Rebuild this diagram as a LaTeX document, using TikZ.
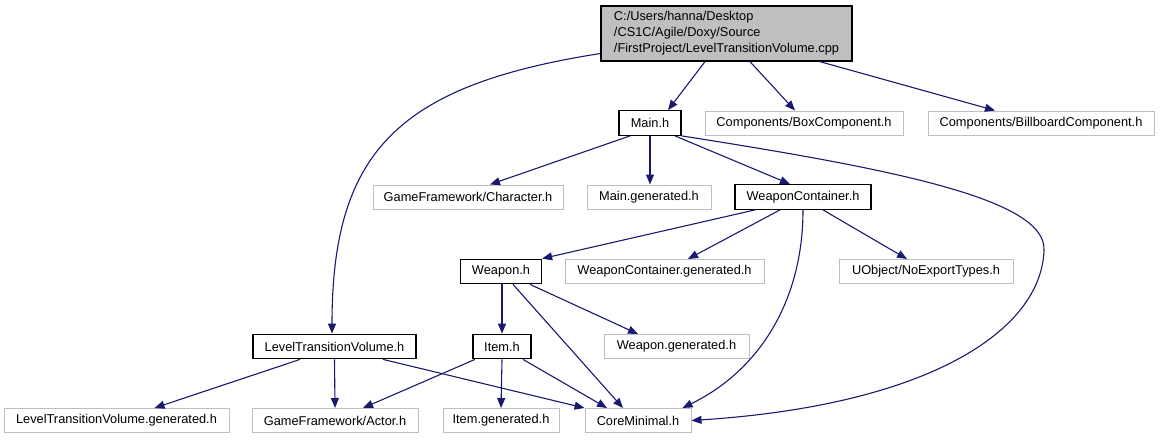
\documentclass[tikz,border=0pt]{standalone}
\usepackage{fontspec}
\setmainfont{Liberation Sans}
\usetikzlibrary{arrows.meta}
\definecolor{Edge}{HTML}{191970}
\definecolor{Frame}{HTML}{BFBFBF}
\colorlet{rootface}{Frame}

\begin{document}
\begin{tikzpicture}[x=1pt,y=-1pt,font=\fontsize{12.8}{16}\selectfont,
    file/.style={draw=Frame,line width=1pt,inner sep=0pt,minimum height=24pt},
    local/.style={draw=black,line width=1.3pt,inner sep=0pt,minimum height=24.5pt},
    edge/.style={draw=Edge,line width=1.1pt,-{Triangle[length=10pt,width=8pt]}}]
    \useasboundingbox (0,0) rectangle (1161,440);
    \node[draw=black,fill=rootface,line width=1.3pt,align=left,minimum width=251pt,minimum height=55pt,inner sep=0pt] (root) at (726.5,33.5)
      {C:/Users/hanna/Desktop\\/CS1C/Agile/Doxy/Source\\/FirstProject/LevelTransitionVolume.cpp};
    \node[local,minimum width=62pt] (mainh) at (650,123){Main.h};
    \node[file,minimum width=198pt] (boxc) at (804,123){Components/BoxComponent.h};
    \node[file,minimum width=226pt] (billc) at (1041,123){Components/BillboardComponent.h};
    \node[file,minimum width=190pt] (charh) at (468,197){GameFramework/Character.h};
    \node[file,minimum width=124pt] (maingen) at (649,197){Main.generated.h};
    \node[local,minimum width=136pt] (wch) at (803,197){WeaponContainer.h};
    \node[local,minimum width=81pt] (weaponh) at (501,271.5){Weapon.h};
    \node[file,minimum width=199pt] (wcgen) at (664.5,271.5){WeaponContainer.generated.h};
    \node[file,minimum width=174pt] (noexp) at (926,271.5){UObject/NoExportTypes.h};
    \node[local,minimum width=163pt] (ltvh) at (334.5,346.5){LevelTransitionVolume.h};
    \node[local,minimum width=58pt] (itemh) at (502,346.5){Item.h};
    \node[file,minimum width=145pt] (weapgen) at (676.5,346.5){Weapon.generated.h};
    \node[file,minimum width=225pt] (ltvgen) at (116.5,420.5){LevelTransitionVolume.generated.h};
    \node[file,minimum width=166pt] (actor) at (335,420.5){GameFramework/Actor.h};
    \node[file,minimum width=116pt] (itemgen) at (501,420.5){Item.generated.h};
    \node[file,minimum width=106pt] (core) at (638,420.5){CoreMinimal.h};
    % from the cpp file
    \draw[edge] ([xshift=-21.5pt]root.south)--([xshift=18pt]mainh.north);
    \draw[edge] ([xshift=23.5pt]root.south)--([xshift=-9pt]boxc.north);
    \draw[edge] ([xshift=93.5pt]root.south)--([xshift=-46pt]billc.north);
    \draw[edge] ([yshift=-20pt]root.west) .. controls (400,85) and (332,150) .. ([xshift=-2.5pt]ltvh.north);
    % Main.h
    \draw[edge] ([xshift=-20pt]mainh.south)--([xshift=22pt]charh.north);
    \draw[edge] (mainh.south)--([xshift=1pt]maingen.north);
    \draw[edge] ([xshift=25pt]mainh.south)--([xshift=-13pt]wch.north);
    \draw[edge] (mainh.south east) .. controls (900,170) and (1046,200) .. (1044,250)
      .. controls (1041.6,330) and (930,405) .. (core.east);
    % WeaponContainer.h
    \draw[edge] ([xshift=-48pt]wch.south)--(weaponh.north east);
    \draw[edge] ([xshift=-23pt]wch.south)--([xshift=23.5pt]wcgen.north);
    \draw[edge] ([xshift=20pt]wch.south)--([xshift=-19pt]noexp.north);
    \draw[edge] (wch.south) .. controls (803,300) and (760,370) .. ([xshift=-9pt]core.north east);
    % Weapon.h
    \draw[edge] ([xshift=1pt]weaponh.south)--(itemh.north);
    \draw[edge] ([xshift=29pt]weaponh.south)--([xshift=-38.5pt]weapgen.north);
    \draw[edge] ([xshift=12pt]weaponh.south)--([xshift=-15pt]core.north);
    % LevelTransitionVolume.h
    \draw[edge] ([xshift=-34.5pt]ltvh.south)--([xshift=38pt]ltvgen.north);
    \draw[edge] (ltvh.south)--(actor.north);
    \draw[edge] ([xshift=48.5pt]ltvh.south)--(core.north west);
    % Item.h
    \draw[edge] ([xshift=-27pt]itemh.south)--([xshift=28pt]actor.north);
    \draw[edge] (itemh.south)--(itemgen.north);
    \draw[edge] ([xshift=21pt]itemh.south)--([xshift=-31pt]core.north);
\end{tikzpicture}
\end{document}
